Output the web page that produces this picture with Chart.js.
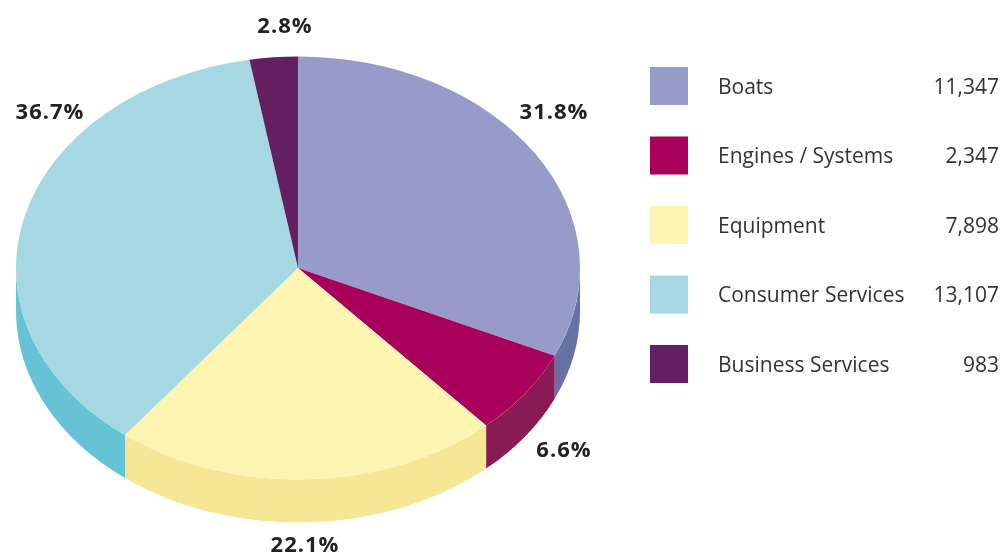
<!DOCTYPE html>
<html>
<head>
<meta charset="utf-8">
<script src="https://cdn.jsdelivr.net/npm/chart.js@4/dist/chart.umd.min.js"></script>
<style>
  html, body { margin: 0; padding: 0; background: #fff; }
  #wrap { position: relative; width: 1002px; height: 558px; }
</style>
</head>
<body>
<div id="wrap"><canvas id="pie" width="1002" height="558"></canvas></div>
<script>
const categories = ['Boats', 'Engines / Systems', 'Equipment', 'Consumer Services', 'Business Services'];
const values = [11347, 2347, 7898, 13107, 983];
const topColors = ['#979bc9', '#a8005b', '#fff5b2', '#a5d8e2', '#641f63'];
const sideColors = ['#6871a3', '#8a1a56', '#f6e796', '#66c3d5', '#4e164d'];

// where each percentage label sits (text placement only)
const labelSpots = [[554, 113], [564, 451], [305, 546], [50, 113], [285, 27]];

const TILT = 0.75;
const DEPTH = 43;

const total = values.reduce((a, b) => a + b, 0);

const tiltPlugin = {
    id: 'tilt',
    beforeDatasetsDraw(chart) {
        const ctx = chart.ctx;
        const meta = chart.getDatasetMeta(0);
        // side walls first, only the front half is visible
        meta.data.forEach((arc, i) => {
            const p = arc.getProps(['x', 'y', 'startAngle', 'endAngle', 'outerRadius'], true);
            const a = Math.max(p.startAngle, 0);
            const b = Math.min(p.endAngle, Math.PI);
            if (a >= b) return;
            ctx.save();
            ctx.beginPath();
            ctx.ellipse(p.x, p.y, p.outerRadius, p.outerRadius * TILT, 0, a, b);
            ctx.ellipse(p.x, p.y + DEPTH, p.outerRadius, p.outerRadius * TILT, 0, b, a, true);
            ctx.closePath();
            ctx.fillStyle = sideColors[i];
            ctx.fill();
            ctx.restore();
        });
        const c = meta.data[0];
        ctx.save();
        ctx.translate(c.x, c.y);
        ctx.scale(1, TILT);
        ctx.translate(-c.x, -c.y);
    },
    afterDatasetsDraw(chart) {
        chart.ctx.restore();
    },
    afterDraw(chart) {
        const ctx = chart.ctx;
        ctx.save();
        // percentage labels
        ctx.font = 'bold 22px "Open Sans"';
        ctx.letterSpacing = '1px';
        ctx.fillStyle = '#222';
        ctx.textAlign = 'center';
        ctx.textBaseline = 'middle';
        values.forEach((v, i) => {
            const pct = (v / total * 100).toFixed(1) + '%';
            ctx.fillText(pct, labelSpots[i][0], labelSpots[i][1]);
        });
        // legend
        ctx.letterSpacing = '0px';
        ctx.font = '21px "Open Sans"';
        categories.forEach((name, i) => {
            const yc = 86 + i * 69.5;
            ctx.fillStyle = topColors[i];
            ctx.fillRect(650, yc - 19, 38, 38);
            ctx.fillStyle = '#333';
            ctx.textAlign = 'left';
            ctx.fillText(name, 718, yc + 2);
            ctx.textAlign = 'right';
            ctx.fillText(values[i].toLocaleString('en-US'), 999, yc + 2);
        });
        ctx.restore();
    }
};

new Chart(document.getElementById('pie'), {
    type: 'pie',
    data: {
        labels: categories,
        datasets: [{
            data: values,
            backgroundColor: topColors,
            borderWidth: 0,
            radius: 282
        }]
    },
    options: {
        responsive: false,
        animation: false,
        events: [],
        devicePixelRatio: 1,
        layout: { padding: { left: 0, right: 406, top: 0, bottom: 22 } },
        plugins: {
            legend: { display: false },
            tooltip: { enabled: false }
        }
    },
    plugins: [tiltPlugin]
});
</script>
</body>
</html>
